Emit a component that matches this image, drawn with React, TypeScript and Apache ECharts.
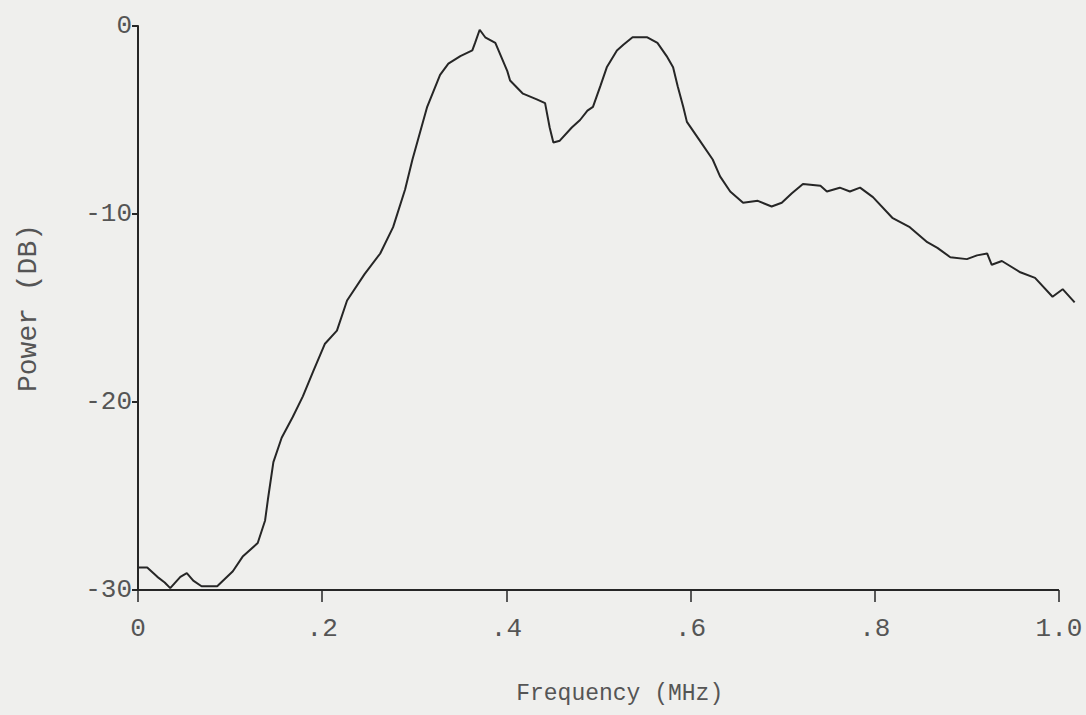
import React, { useEffect, useRef } from "react";
import * as echarts from "echarts";

// Frequency in MHz
const freq = [
  0.0, 0.01, 0.021, 0.029, 0.035, 0.046, 0.053, 0.06, 0.069, 0.086,
  0.103, 0.114, 0.13, 0.138, 0.141, 0.147, 0.156, 0.168, 0.179, 0.19,
  0.203, 0.216, 0.227, 0.246, 0.263, 0.277, 0.29, 0.298, 0.314, 0.328,
  0.337, 0.35, 0.363, 0.366, 0.371, 0.377, 0.388, 0.401, 0.404, 0.418,
  0.433, 0.442, 0.447, 0.451, 0.458, 0.471, 0.48, 0.488, 0.494, 0.502,
  0.509, 0.52, 0.527, 0.537, 0.553, 0.564, 0.574, 0.581, 0.586, 0.592,
  0.596, 0.61, 0.624, 0.632, 0.643, 0.657, 0.673, 0.688, 0.699, 0.71,
  0.722, 0.741, 0.748, 0.762, 0.773, 0.784, 0.798, 0.819, 0.838, 0.857,
  0.868, 0.882, 0.9, 0.911, 0.922, 0.927, 0.938, 0.958, 0.974, 0.993,
  1.004, 1.017,
];

// Power in dB
const power = [
  -28.8, -28.8, -29.3, -29.6, -29.9, -29.3, -29.1, -29.5, -29.8, -29.8,
  -29.0, -28.2, -27.5, -26.3, -25.2, -23.2, -21.9, -20.8, -19.7, -18.4,
  -16.9, -16.2, -14.6, -13.2, -12.1, -10.7, -8.7, -7.1, -4.3, -2.6,
  -2.0, -1.6, -1.3, -0.9, -0.2, -0.6, -0.9, -2.4, -2.9, -3.6,
  -3.9, -4.1, -5.4, -6.2, -6.1, -5.4, -5.0, -4.5, -4.3, -3.2,
  -2.2, -1.3, -1.0, -0.6, -0.6, -0.9, -1.6, -2.2, -3.2, -4.3,
  -5.1, -6.1, -7.1, -8.0, -8.8, -9.4, -9.3, -9.6, -9.4, -8.9,
  -8.4, -8.5, -8.8, -8.6, -8.8, -8.6, -9.1, -10.2, -10.7, -11.5,
  -11.8, -12.3, -12.4, -12.2, -12.1, -12.7, -12.5, -13.1, -13.4, -14.4,
  -14.0, -14.7,
];

const xTicks = [0, 0.2, 0.4, 0.6, 0.8, 1.0];
const xTickLabels = ["0", ".2", ".4", ".6", ".8", "1.0"];
const xAxisEnd = 1.0; // drawn axis line runs 0 .. 1.0
const xDataEnd = 1.02; // trace runs slightly past 1.0
const yMin = -30;

const FONT = "'Liberation Mono', 'DejaVu Sans Mono', monospace";
const TEXT = "#555555";
const INK = "#262626";

export default function App() {
  const ref = useRef<HTMLDivElement>(null);

  useEffect(() => {
    if (!ref.current) return;
    const chart = echarts.init(ref.current, undefined, { renderer: "svg" });
    const data = freq.map((f, i) => [f, power[i]]);
    chart.setOption({
      animation: false,
      backgroundColor: "#efefed",
      grid: { left: 138, right: 8.6, top: 26, bottom: 125, containLabel: false },
      xAxis: {
        type: "value",
        min: 0,
        max: xDataEnd,
        name: "Frequency (MHz)",
        nameLocation: "middle",
        nameGap: 92,
        nameTextStyle: {
          fontFamily: FONT,
          fontSize: 23,
          color: TEXT,
          padding: [0, 0, 0, 24],
        },
        axisLine: { show: false, onZero: false },
        axisTick: {
          show: true,
          length: 12,
          customValues: xTicks,
          lineStyle: { color: INK, width: 1.5 },
        },
        splitLine: { show: false },
        axisLabel: {
          margin: 26,
          fontFamily: FONT,
          fontSize: 26,
          color: TEXT,
          customValues: xTicks,
          formatter: (v: number) => {
            let best = 0;
            for (let i = 0; i < xTicks.length; i++) {
              if (Math.abs(xTicks[i] - v) < Math.abs(xTicks[best] - v)) best = i;
            }
            return xTickLabels[best];
          },
        },
      },
      yAxis: {
        type: "value",
        min: yMin,
        max: 0,
        interval: 10,
        name: "Power (DB)",
        nameLocation: "middle",
        nameGap: 96,
        nameTextStyle: { fontFamily: FONT, fontSize: 28, color: TEXT },
        axisLine: { show: true, onZero: false, lineStyle: { color: INK, width: 2 } },
        axisTick: { show: true, length: 6, lineStyle: { color: INK, width: 2 } },
        splitLine: { show: false },
        axisLabel: {
          margin: 6,
          fontFamily: FONT,
          fontSize: 26,
          color: TEXT,
        },
      },
      series: [
        {
          type: "line",
          data,
          showSymbol: false,
          symbol: "none",
          clip: false,
          lineStyle: { color: INK, width: 2 },
          markLine: {
            silent: true,
            symbol: ["none", "none"],
            label: { show: false },
            lineStyle: { color: INK, width: 2, type: "solid" },
            data: [[{ coord: [0, yMin] }, { coord: [xAxisEnd, yMin] }]],
          },
        },
      ],
    });
    return () => chart.dispose();
  }, []);

  return (
    <div
      ref={ref}
      style={{ position: "fixed", left: 0, top: 0, width: 1086, height: 715 }}
    />
  );
}
